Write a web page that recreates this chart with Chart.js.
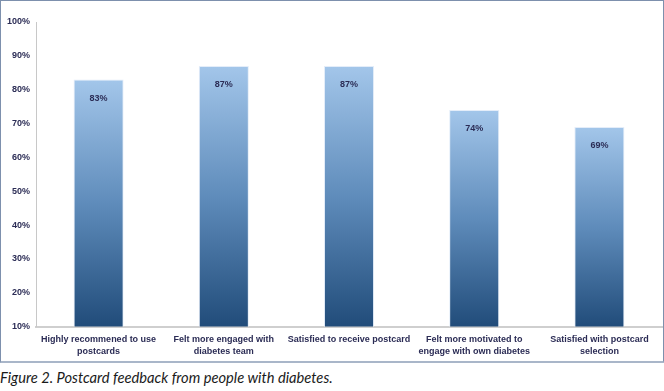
<!DOCTYPE html>
<html>
<head>
<meta charset="utf-8">
<script src="https://cdn.jsdelivr.net/npm/chart.js@4"></script>
<style>
    html, body { margin: 0; padding: 0; background: #fff; }
    #frame {
        position: absolute; left: 0; top: 0;
        width: 662px; height: 360px;
        border: 1px solid #7d90ad;
        border-right-width: 2px;
        border-bottom-width: 2px;
        border-bottom-color: #a9b6c9;
    }
    #frame canvas { display: block; }
    #caption {
        position: absolute; left: 0; top: 368px;
        font: italic 14.7px Lato, "Open Sans", sans-serif;
        color: #1a1a1a;
        white-space: nowrap;
    }
</style>
</head>
<body>
<div id="frame"><canvas id="chart" width="662" height="360"></canvas></div>
<div id="caption">Figure 2. Postcard feedback from people with diabetes.</div>

<script>
// ---- Data ---------------------------------------------------------------

const CATEGORIES = [
    ['Highly recommened to use', 'postcards'],
    ['Felt more engaged with', 'diabetes team'],
    ['Satisfied to receive postcard'],
    ['Felt more motivated to', 'engage with own diabetes'],
    ['Satisfied with postcard', 'selection'],
];
const PERCENTS = [83, 87, 87, 74, 69];
const Y_MIN = 10;
const Y_MAX = 100;
const Y_STEP = 10;

const FONT = '"Liberation Sans", Arial, sans-serif';
const TEXT = '#2b2c55';

// ---- Per-bar gradient (light at the top of each bar) --------------------

function barGradient(ctx) {
    const chart = ctx.chart;
    const y = chart.scales.y;
    if (!chart.chartArea || !y || ctx.raw == null) return '#5f8dbf';
    const top = y.getPixelForValue(ctx.raw);
    const bottom = y.getPixelForValue(Y_MIN);
    const g = chart.ctx.createLinearGradient(0, top, 0, bottom);
    g.addColorStop(0, '#a3c6ea');
    g.addColorStop(0.5, '#5f8cbb');
    g.addColorStop(1, '#214c7a');
    return g;
}

// ---- Value labels inside the bar top ------------------------------------

const valueLabels = {
    id: 'valueLabels',
    afterDatasetsDraw(chart) {
        const { ctx } = chart;
        const meta = chart.getDatasetMeta(0);
        ctx.save();
        ctx.font = `bold 9px ${FONT}`;
        ctx.fillStyle = TEXT;
        ctx.textAlign = 'center';
        ctx.textBaseline = 'middle';
        meta.data.forEach((bar, i) => {
            ctx.fillText(PERCENTS[i] + '%', bar.x, bar.y + 19);
        });
        ctx.restore();
    },
};

new Chart(document.getElementById('chart'), {
    type: 'bar',
    data: {
        labels: CATEGORIES,
        datasets: [{
            data: PERCENTS,
            backgroundColor: barGradient,
            borderColor: 'rgba(225,235,248,0.9)',
            borderWidth: { left: 1, right: 1, top: 1, bottom: 0 },
            borderSkipped: false,
            barPercentage: 0.4,
            categoryPercentage: 1,
        }],
    },
    options: {
        responsive: false,
        animation: false,
        layout: { padding: { top: 21, right: 1, left: 0, bottom: -3 } },
        plugins: {
            legend: { display: false },
            tooltip: { enabled: false },
        },
        scales: {
            x: {
                grid: { display: false, drawTicks: false },
                border: { color: '#cfcfcf', width: 2 },
                ticks: {
                    color: TEXT,
                    font: { family: FONT, size: 9, weight: 'bold', lineHeight: 1.3 },
                    maxRotation: 0,
                    autoSkip: false,
                    padding: 7,
                },
            },
            y: {
                min: Y_MIN,
                max: Y_MAX,
                ticks: {
                    stepSize: Y_STEP,
                    color: TEXT,
                    font: { family: FONT, size: 9, weight: 'bold' },
                    padding: 6,
                    callback: v => v + '%',
                },
                grid: { display: false, drawTicks: false },
                border: { color: '#c8c8c8', width: 1 },
            },
        },
    },
    plugins: [valueLabels],
});
</script>
</body>
</html>
